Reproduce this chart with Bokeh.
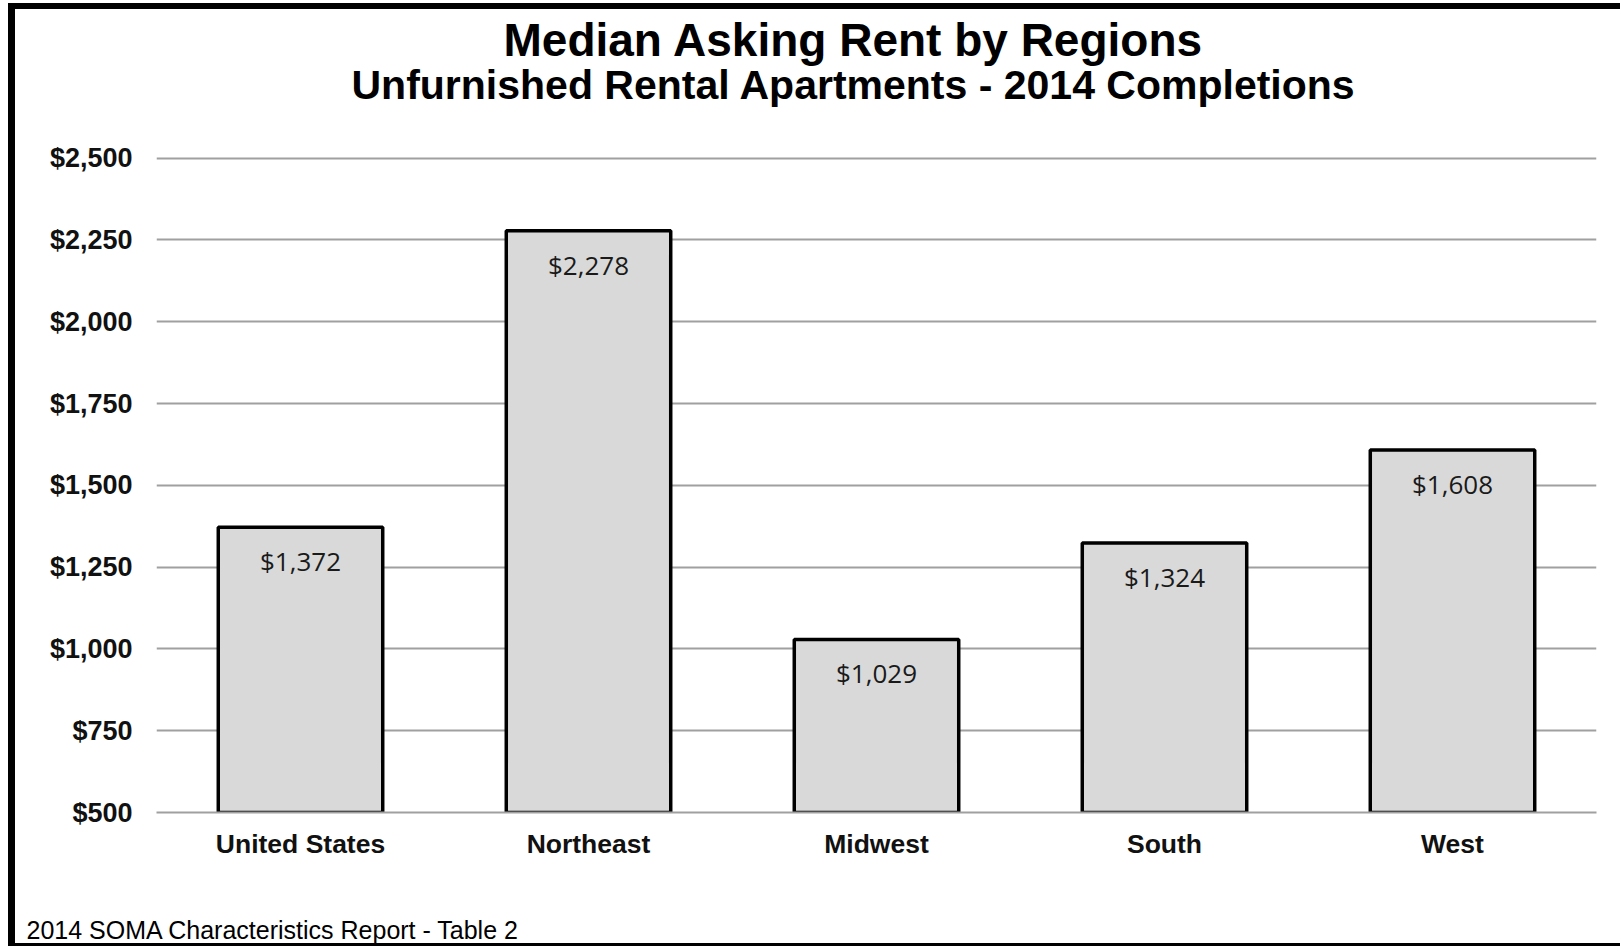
from bokeh.plotting import figure
from bokeh.models import NumeralTickFormatter, Title, FixedTicker, ColumnDataSource
from bokeh.core.properties import value
from bokeh.embed import file_html
from bokeh.resources import INLINE

regions = ["United States", "Northeast", "Midwest", "South", "West"]
rents = [1372, 2278, 1029, 1324, 1608]
rent_labels = ["$1,372", "$2,278", "$1,029", "$1,324", "$1,608"]
y_ticks = [500, 750, 1000, 1250, 1500, 1750, 2000, 2250, 2500]
title_1 = "Median Asking Rent by Regions"
title_2 = "Unfurnished Rental Apartments - 2014 Completions"
footnote = "2014  SOMA Characteristics Report - Table 2"

src = ColumnDataSource(dict(region=regions, rent=rents, label=rent_labels))

W, H = 1605, 934
p = figure(x_range=regions, y_range=(500, 2505), width=W, height=H,
           output_backend="svg", toolbar_location=None, tools="")
p.min_border_left = 141
p.min_border_right = 31
p.min_border_top = 147
p.min_border_bottom = 140
p.outline_line_color = None
p.background_fill_color = "white"
p.border_fill_color = "white"
p.styles = {"box-sizing": "content-box", "margin-left": "8px", "margin-top": "3px",
            "border-left": "7px solid black", "border-top": "6px solid black",
            "border-bottom": "3px solid black"}

p.vbar(x="region", top="rent", bottom=500, width=0.571, source=src,
       fill_color="#D9D9D9", line_color="black", line_width=3.5)

p.text(x="region", y="rent", text="label", source=src,
       text_align="center", text_baseline="middle", y_offset=34,
       text_font=value("Open Sans"), text_font_size="26px", text_color="#1a1a1a")

p.xgrid.grid_line_color = None
p.ygrid.grid_line_color = "#A0A0A0"
p.ygrid.grid_line_width = 2
p.yaxis.ticker = FixedTicker(ticks=y_ticks)
p.yaxis.formatter = NumeralTickFormatter(format="$0,0")
p.yaxis.axis_line_color = None
p.yaxis.major_tick_line_color = None
p.yaxis.minor_tick_line_color = None
p.yaxis.major_label_standoff = 18
p.xaxis.axis_line_color = "#A0A0A0"
p.xaxis.axis_line_width = 2
p.xaxis.major_tick_line_color = None
p.xaxis.major_label_standoff = 10
p.yaxis.major_label_text_font_size = "27px"
p.xaxis.major_label_text_font_size = "26.5px"
for ax in (p.xaxis, p.yaxis):
    ax.major_label_text_font = "Liberation Sans"
    ax.major_label_text_font_style = "bold"
    ax.major_label_text_color = "#111111"

# above: stacked outward from the frame (spacer, line 2, line 1)
spacer_top = Title(text=" ", standoff=41, text_font_size="10px", text_color="white")
t2 = Title(text=title_2, align="left", offset=195, standoff=-10,
           text_font="Liberation Sans", text_font_style="bold",
           text_font_size="41px", text_color="black")
t1 = Title(text=title_1, align="left", offset=347, standoff=-3,
           text_font="Liberation Sans", text_font_style="bold",
           text_font_size="46px", text_color="black")
p.add_layout(spacer_top, "above")
p.add_layout(t2, "above")
p.add_layout(t1, "above")

# below: axis, spacer, footnote
spacer_bot = Title(text=" ", standoff=39, text_font_size="10px", text_color="white")
fn = Title(text=footnote, align="left", offset=-130, standoff=0,
           text_font="Liberation Sans", text_font_style="normal",
           text_font_size="25px", text_color="black")
p.add_layout(spacer_bot, "below")
p.add_layout(fn, "below")

open("out.html", "w").write(file_html(p, INLINE))
